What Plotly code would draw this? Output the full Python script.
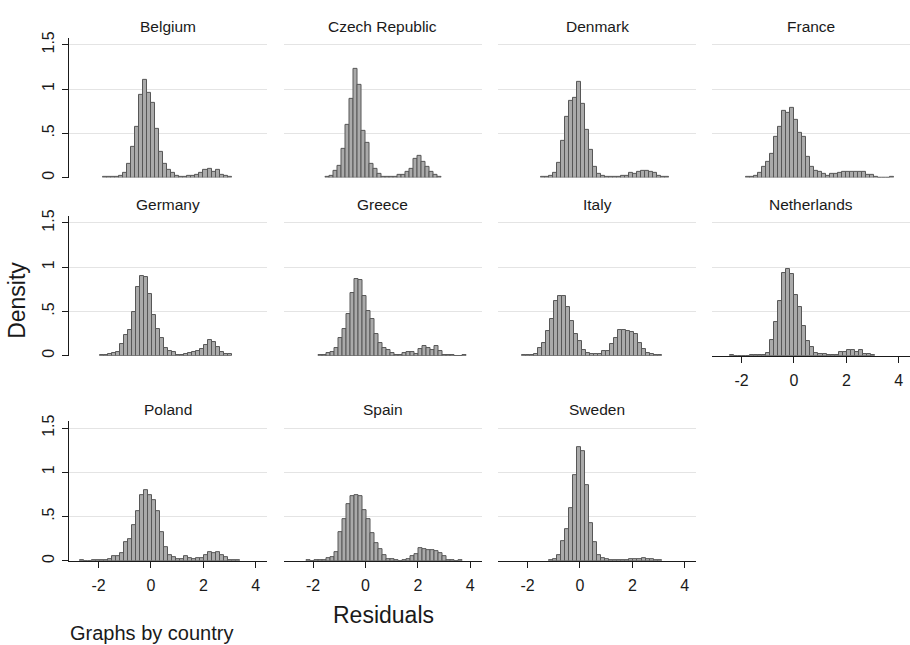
import plotly.graph_objects as go

# Residual histograms by country (density scale), one panel per country
countries = ["Belgium", "Czech Republic", "Denmark", "France", "Germany", "Greece",
             "Italy", "Netherlands", "Poland", "Spain", "Sweden"]

bin_width = 0.153

# left edge of the first bin for each country
bin_start = [-1.82, -1.52, -1.49, -1.84, -1.96, -1.81, -2.23, -2.43, -2.72, -2.25, -1.17]

belgium = [0.003, 0.003, 0.005, 0.01, 0.025, 0.05, 0.16, 0.35, 0.57, 0.93, 1.10, 0.96,
           0.84, 0.55, 0.285, 0.15, 0.09, 0.05, 0.02, 0.01, 0.012, 0.015, 0.02, 0.035,
           0.055, 0.09, 0.10, 0.065, 0.09, 0.035, 0.02, 0.01]
czech = [0.01, 0.025, 0.075, 0.13, 0.33, 0.6, 0.89, 1.23, 1.05, 0.53, 0.39, 0.16, 0.1,
         0.04, 0.008, 0.008, 0.012, 0.008, 0.03, 0.03, 0.07, 0.1, 0.21, 0.24, 0.18, 0.12,
         0.06, 0.03, 0.012]
denmark = [0.005, 0.005, 0.015, 0.05, 0.17, 0.41, 0.69, 0.87, 0.90, 1.08, 0.83, 0.54,
           0.31, 0.12, 0.045, 0.02, 0.008, 0.005, 0.005, 0.008, 0.015, 0.015, 0.055,
           0.04, 0.07, 0.08, 0.075, 0.06, 0.05, 0.02, 0.012, 0.005]
france = [0.005, 0.005, 0.015, 0.05, 0.12, 0.18, 0.27, 0.46, 0.575, 0.75, 0.73, 0.785,
          0.65, 0.5, 0.465, 0.23, 0.12, 0.08, 0.06, 0.045, 0.025, 0.04, 0.045, 0.05,
          0.06, 0.07, 0.06, 0.07, 0.06, 0.07, 0.03, 0.033, 0.01, 0, 0, 0, 0.008]
germany = [0.005, 0.005, 0.015, 0.03, 0.045, 0.13, 0.23, 0.29, 0.49, 0.775, 0.895,
           0.885, 0.695, 0.46, 0.305, 0.2, 0.09, 0.05, 0.045, 0.008, 0.012, 0.02, 0.03,
           0.04, 0.05, 0.08, 0.12, 0.18, 0.15, 0.1, 0.04, 0.015, 0.018]
greece = [0.005, 0.005, 0.03, 0.04, 0.09, 0.2, 0.3, 0.47, 0.71, 0.87, 0.85, 0.68, 0.51,
          0.41, 0.25, 0.14, 0.09, 0.06, 0.03, 0.01, 0.005, 0.03, 0.04, 0.045, 0.02, 0.08,
          0.11, 0.09, 0.06, 0.11, 0.05, 0.01, 0.005, 0.005, 0, 0, 0.01]
italy = [0.005, 0.005, 0.005, 0.02, 0.09, 0.14, 0.28, 0.41, 0.62, 0.67, 0.675, 0.55,
         0.39, 0.24, 0.165, 0.07, 0.03, 0.02, 0.02, 0.015, 0.05, 0.05, 0.13, 0.2, 0.29,
         0.285, 0.28, 0.27, 0.245, 0.14, 0.08, 0.03, 0.015, 0.01, 0.005]
netherlands = [0.004, 0, 0, 0, 0, 0.005, 0.005, 0.01, 0.01, 0.035, 0.18, 0.385, 0.62,
               0.935, 0.975, 0.925, 0.69, 0.545, 0.34, 0.17, 0.1, 0.03, 0.02, 0.02,
               0.005, 0.005, 0.005, 0.04, 0.04, 0.06, 0.07, 0.04, 0.065, 0.025, 0.025,
               0.005]
poland = [0.005, 0, 0, 0.003, 0.003, 0.003, 0.01, 0.02, 0.05, 0.05, 0.09, 0.21, 0.25,
          0.4, 0.56, 0.74, 0.8, 0.74, 0.69, 0.56, 0.33, 0.16, 0.07, 0.04, 0.02, 0.025,
          0.055, 0.03, 0.015, 0.03, 0.03, 0.07, 0.1, 0.09, 0.1, 0.06, 0.04, 0.01, 0.005,
          0.005]
spain = [0.004, 0, 0.003, 0.003, 0.005, 0.03, 0.04, 0.1, 0.32, 0.47, 0.64, 0.735, 0.74,
         0.735, 0.57, 0.47, 0.31, 0.2, 0.13, 0.07, 0.02, 0.02, 0.005, 0, 0.005, 0.02,
         0.05, 0.08, 0.14, 0.13, 0.12, 0.12, 0.11, 0.09, 0.05, 0.01, 0.005, 0, 0.005]
sweden = [0.005, 0.02, 0.07, 0.22, 0.36, 0.6, 0.97, 1.28, 1.24, 0.86, 0.43, 0.21, 0.07,
          0.03, 0.02, 0.01, 0.005, 0.005, 0.005, 0.005, 0.015, 0.015, 0.02, 0.03, 0.025,
          0.02, 0.01, 0.005]

x_ticks = [-2, 0, 2, 4]
x_tick_labels = ["-2", "0", "2", "4"]
y_ticks = [0, 0.5, 1, 1.5]
y_tick_labels = ["0", ".5", "1", "1.5"]

heights = [belgium, czech, denmark, france, germany, greece, italy, netherlands,
           poland, spain, sweden]

# ---- page geometry (pixels) ----
W, H = 910, 645
col_left = [69, 283.5, 498, 712]
panel_w = 198
row_top = [31.3, 212, 420]
panel_h = 141.7
x_range = [-3.13, 4.43]
y_range = [0, 1.578]

FONT = "Liberation Sans, Arial, Helvetica, sans-serif"
INK = "#1a1a1a"
GRID = "#e4e4e4"
BAR_FILL = "#aaaaaa"
BAR_EDGE = "#575757"

# panels whose horizontal axis is labelled (bottom of each column)
x_labelled = {"Netherlands", "Poland", "Spain", "Sweden"}


def px_x(p):
    return min(max(p / W, 0.0), 1.0)


def px_y(p):
    return min(max(1 - p / H, 0.0), 1.0)


fig = go.Figure()
layout = {}
annotations = []

for k, name in enumerate(countries):
    row, col = divmod(k, 4)
    ax = "" if k == 0 else str(k + 1)
    vals = heights[k]
    centers = [bin_start[k] + bin_width * (i + 0.5) for i in range(len(vals))]
    fig.add_trace(go.Bar(
        x=centers, y=vals, width=bin_width,
        marker=dict(color=BAR_FILL, line=dict(color=BAR_EDGE, width=1)),
        xaxis="x" + ax, yaxis="y" + ax, showlegend=False, hoverinfo="x+y",
    ))

    x0 = col_left[col]
    y0 = row_top[row]
    xdom = [px_x(x0), px_x(x0 + panel_w)]
    ydom = [px_y(y0 + panel_h), px_y(y0)]

    show_x = name in x_labelled
    xa = dict(domain=xdom, range=x_range, anchor="y" + ax, showgrid=False,
              zeroline=False, fixedrange=True)
    if show_x:
        xa.update(showline=True, linecolor=INK, linewidth=1.2, ticks="outside",
                  ticklen=6, tickwidth=1.2, tickcolor=INK, tickvals=x_ticks,
                  ticktext=x_tick_labels, ticklabelstandoff=4,
                  tickfont=dict(size=16, color=INK, family=FONT))
    else:
        xa.update(showline=False, ticks="", showticklabels=False)

    ya = dict(domain=ydom, range=y_range, anchor="x" + ax, showgrid=True,
              gridcolor=GRID, gridwidth=1, zeroline=False, tickvals=y_ticks,
              ticktext=y_tick_labels, fixedrange=True)
    if col == 0:
        ya.update(showline=True, linecolor=INK, linewidth=1.2, ticks="outside",
                  ticklen=6, tickwidth=1.2, tickcolor=INK, tickangle=-90,
                  ticklabelstandoff=2,
                  tickfont=dict(size=16, color=INK, family=FONT))
    else:
        ya.update(showline=False, ticks="", showticklabels=False)

    layout["xaxis" + ax] = xa
    layout["yaxis" + ax] = ya

    annotations.append(dict(
        text=name, x=px_x(x0 + panel_w / 2), y=px_y(y0 - 12),
        xref="paper", yref="paper", xanchor="center", yanchor="middle",
        showarrow=False, font=dict(size=15.5, color=INK, family=FONT),
    ))

annotations.append(dict(
    text="Density", x=px_x(17), y=px_y(298), xref="paper", yref="paper",
    xanchor="center", yanchor="middle", textangle=-90, showarrow=False,
    font=dict(size=23, color=INK, family=FONT),
))
annotations.append(dict(
    text="Residuals", x=px_x(383), y=px_y(617), xref="paper", yref="paper",
    xanchor="center", yanchor="middle", showarrow=False,
    font=dict(size=23, color=INK, family=FONT),
))
annotations.append(dict(
    text="Graphs by country", x=px_x(68), y=px_y(635), xref="paper", yref="paper",
    xanchor="left", yanchor="middle", showarrow=False,
    font=dict(size=20, color=INK, family=FONT),
))

fig.update_layout(
    width=W, height=H, margin=dict(l=0, r=0, t=0, b=0),
    paper_bgcolor="white", plot_bgcolor="white", bargap=0,
    annotations=annotations, font=dict(family=FONT, color=INK),
    **layout,
)

fig.write_html("out.html")
